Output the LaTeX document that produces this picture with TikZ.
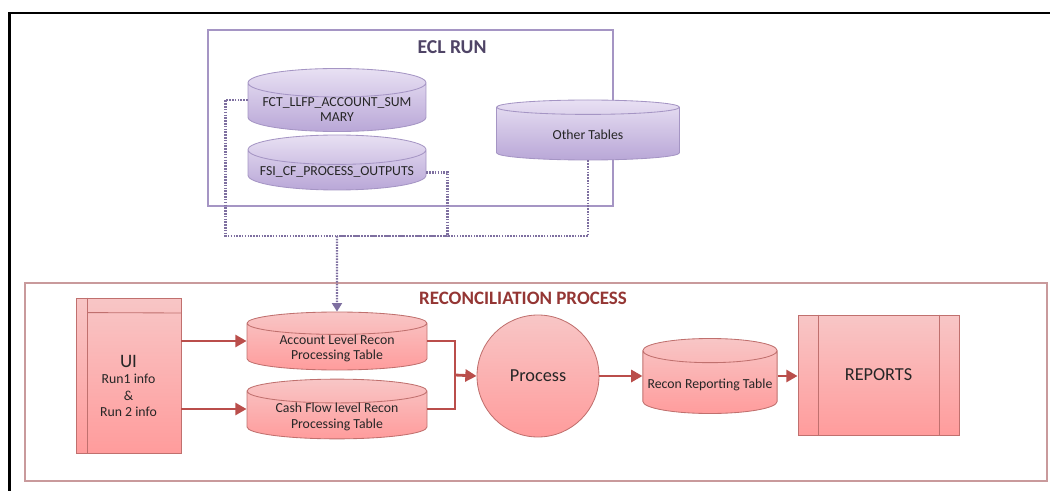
\documentclass[tikz,border=0pt]{standalone}
\usepackage{fontspec}
\setmainfont{Carlito}
\usetikzlibrary{arrows.meta,positioning,shapes.geometric}

\definecolor{eclborder}{HTML}{A595C4}
\definecolor{eclhead}{HTML}{4F4466}
\definecolor{ecltop}{HTML}{E8E0F3}
\definecolor{eclbot}{HTML}{B9A7D7}
\definecolor{ecldots}{HTML}{7E6FA0}
\definecolor{reconborder}{HTML}{C99A9C}
\definecolor{reconhead}{HTML}{943634}
\definecolor{recontop}{HTML}{F8C6C6}
\definecolor{reconbot}{HTML}{FF9C9C}
\definecolor{reconedge}{HTML}{C0706E}
\definecolor{reconarrow}{HTML}{BA4E4B}

\newcommand{\pxu}{0.025cm}

\tikzset{
  smalltext/.style={font=\fontsize{9.8}{11}\selectfont},
  tablebase/.style={cylinder, shape border rotate=90, aspect=0.18, inner ysep=0pt,
    anchor=shape center, line width=0.6pt, align=center, text=black!85, smalltext},
  ecltable/.style={tablebase, draw=eclborder, top color=ecltop, bottom color=eclbot},
  recontable/.style={tablebase, draw=reconedge, top color=recontop, bottom color=reconbot},
  reconbox/.style={rectangle, draw=reconedge, line width=0.6pt, top color=recontop,
    bottom color=reconbot, align=center, text=black!85},
  ecllink/.style={draw=ecldots, line width=1.6pt, dash pattern=on 1.1pt off 0.9pt},
  reconlink/.style={draw=reconarrow, line width=2pt},
  reconarrow/.style={reconlink, -{Triangle[length=8pt,width=8.5pt]}}
}

\begin{document}
\begin{tikzpicture}[x=0.025cm, y=-0.025cm]
  \useasboundingbox (0,0) rectangle (1050,491);
  % outer frame
  \draw[line width=2.1pt] (9.5,491) -- (9.5,13) -- (1050,13);

  % ECL run
  \draw[eclborder, line width=1.3pt] (208,30) rectangle (613,206);
  \node[text=eclhead, font=\fontsize{14}{16}\selectfont\bfseries] (ecltitle) at (452,47) {ECL RUN};
  \node[ecltable, minimum width=178*\pxu, minimum height=56*\pxu] (fct) at (337,100) {FCT\_LLFP\_ACCOUNT\_SUM\\MARY};
  \node[ecltable, minimum width=178*\pxu, minimum height=55*\pxu] (fsi) at (337,162.5) {FSI\_CF\_PROCESS\_OUTPUTS};
  \node[ecltable, minimum width=183*\pxu, minimum height=60*\pxu] (other) at (588,130) {Other Tables};

  % Reconciliation process
  \draw[reconborder, line width=1.3pt] (25,283) rectangle (1047,481);
  \node[text=reconhead, font=\fontsize{13.5}{16}\selectfont\bfseries] (recontitle) at (523,298) {RECONCILIATION PROCESS};
  \node[reconbox, minimum width=105*\pxu, minimum height=155*\pxu] (ui) at (128.5,375.5) {};
  \node[text=black!85, align=center, font=\fontsize{9.8}{11.5}\selectfont] (uitext) at (128.5,386)
    {{\fontsize{13.5}{14}\selectfont UI}\\Run1 info\\\&\\Run 2 info};
  \node[recontable, minimum width=180*\pxu, minimum height=58*\pxu] (acct) at (337,341) {Account Level Recon\\Processing Table};
  \node[recontable, minimum width=180*\pxu, minimum height=50*\pxu] (cash) at (337,409) {Cash Flow level Recon\\Processing Table};
  \node[circle, draw=reconedge, line width=0.6pt, top color=recontop, bottom color=reconbot,
    minimum size=122*\pxu, text=black!85, font=\fontsize{13}{15}\selectfont] (proc) at (538,376) {Process};
  \node[recontable, minimum width=130*\pxu, minimum height=75*\pxu] (rrt) at (710,376) {Recon Reporting Table};
  \node[reconbox, minimum width=161*\pxu, minimum height=120*\pxu, font=\fontsize{13}{15}\selectfont] (reports) at (878.5,375) {REPORTS};

  % box rules
  \draw[reconedge, line width=0.6pt] (ui.north west) ++(12,0) -- ++(0,155);
  \draw[reconedge, line width=0.6pt] (ui.north west) ++(12,15) -- (ui.north east |- 0,313);
  \draw[reconedge, line width=0.6pt] (reports.north west) ++(21,0) -- ++(0,120);
  \draw[reconedge, line width=0.6pt] (reports.north east) ++(-20,0) -- ++(0,120);

  % ECL links
  \coordinate (join) at (337,236);
  \draw[ecllink] (fct.west |- fct.shape center) -- ++(-22,0) |- (join);
  \draw[ecllink] (fsi.east) -- ++(21,0) |- (join);
  \draw[ecllink] (other.south) |- (join);
  \draw[ecllink, -{Triangle[length=6pt,width=7pt]}] (join) -- (acct.north);

  % Recon flow
  \coordinate (merge) at (455,375);
  \draw[reconarrow] (ui.east |- acct.shape center) -- (acct.west |- acct.shape center);
  \draw[reconarrow] (ui.east |- cash.shape center) -- (cash.west |- cash.shape center);
  \draw[reconlink] (acct.east |- acct.shape center) -| (merge) |- (cash.east |- cash.shape center);
  \draw[reconarrow] (merge) -- (proc.west);
  \draw[reconarrow] (proc.east) -- (rrt.west |- rrt.shape center);
  \draw[reconarrow] (rrt.east |- rrt.shape center) -- (reports.west |- rrt.shape center);
\end{tikzpicture}
\end{document}
